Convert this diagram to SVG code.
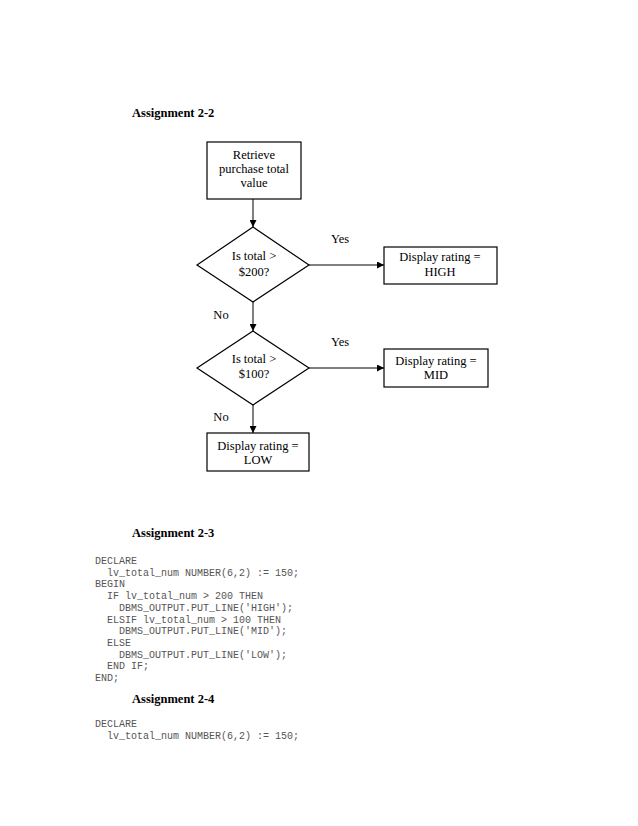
<svg xmlns="http://www.w3.org/2000/svg" width="638" height="826" viewBox="0 0 638 826">
<defs>
<style>
.title{font-family:"Liberation Serif","Times New Roman",serif;font-weight:bold;font-size:12.5px;fill:#000}
.lbl{font-family:"Liberation Serif","Times New Roman",serif;font-size:12.5px;fill:#000;text-anchor:middle}
.shape{fill:#fff;stroke:#000;stroke-width:1.2}
.conn{stroke:#000;stroke-width:1;fill:none;marker-end:url(#arr)}
.code{font-family:"Liberation Mono","Courier New",monospace;font-size:10px;fill:#555;white-space:pre}
</style>
<marker id="arr" viewBox="0 0 10 10" refX="10" refY="5" markerWidth="7" markerHeight="7" markerUnits="userSpaceOnUse" orient="auto">
<path d="M0,0 L10,5 L0,10 z" fill="#000"/>
</marker>
</defs>
<rect width="638" height="826" fill="#fff"/>

<text class="title" x="132" y="117">Assignment 2-2</text>

<g id="connectors">
<line class="conn" x1="253" y1="199" x2="253" y2="227"/>
<line class="conn" x1="253" y1="302" x2="253" y2="331"/>
<line class="conn" x1="253" y1="405" x2="253" y2="433"/>
<line class="conn" x1="309" y1="265" x2="384" y2="265"/>
<line class="conn" x1="309" y1="368" x2="384" y2="368"/>
<text class="lbl" x="340" y="243">Yes</text>
<text class="lbl" x="340" y="346">Yes</text>
<text class="lbl" x="221" y="319">No</text>
<text class="lbl" x="221" y="421">No</text>
</g>

<g id="retrieve">
<rect class="shape" x="207" y="142" width="94" height="57"/>
<text class="lbl" x="254" y="159">Retrieve</text>
<text class="lbl" x="254" y="173">purchase total</text>
<text class="lbl" x="254" y="187">value</text>
</g>

<g id="check200">
<polygon class="shape" points="253,227 309,265 253,302 197,265"/>
<text class="lbl" x="254" y="260">Is total &gt;</text>
<text class="lbl" x="254" y="276">$200?</text>
</g>

<g id="high">
<rect class="shape" x="384" y="247" width="113" height="37"/>
<text class="lbl" x="440" y="261">Display rating =</text>
<text class="lbl" x="440" y="276">HIGH</text>
</g>

<g id="check100">
<polygon class="shape" points="253,331 309,368 253,405 197,368"/>
<text class="lbl" x="254" y="363">Is total &gt;</text>
<text class="lbl" x="254" y="378">$100?</text>
</g>

<g id="mid">
<rect class="shape" x="384" y="349" width="104" height="38"/>
<text class="lbl" x="436" y="365">Display rating =</text>
<text class="lbl" x="436" y="379">MID</text>
</g>

<g id="low">
<rect class="shape" x="207" y="433" width="102" height="38"/>
<text class="lbl" x="258" y="450">Display rating =</text>
<text class="lbl" x="258" y="464">LOW</text>
</g>

<text class="title" x="132" y="537">Assignment 2-3</text>
<g id="code1">
<text class="code" x="95" y="564">DECLARE</text>
<text class="code" x="95" y="575.7">  lv_total_num NUMBER(6,2) := 150;</text>
<text class="code" x="95" y="587.4">BEGIN</text>
<text class="code" x="95" y="599.1">  IF lv_total_num &gt; 200 THEN</text>
<text class="code" x="95" y="610.8">    DBMS_OUTPUT.PUT_LINE('HIGH');</text>
<text class="code" x="95" y="622.5">  ELSIF lv_total_num &gt; 100 THEN</text>
<text class="code" x="95" y="634.2">    DBMS_OUTPUT.PUT_LINE('MID');</text>
<text class="code" x="95" y="645.9">  ELSE</text>
<text class="code" x="95" y="657.6">    DBMS_OUTPUT.PUT_LINE('LOW');</text>
<text class="code" x="95" y="669.3">  END IF;</text>
<text class="code" x="95" y="681">END;</text>
</g>

<text class="title" x="132" y="703">Assignment 2-4</text>
<g id="code2">
<text class="code" x="95" y="727">DECLARE</text>
<text class="code" x="95" y="739">  lv_total_num NUMBER(6,2) := 150;</text>
</g>
</svg>
